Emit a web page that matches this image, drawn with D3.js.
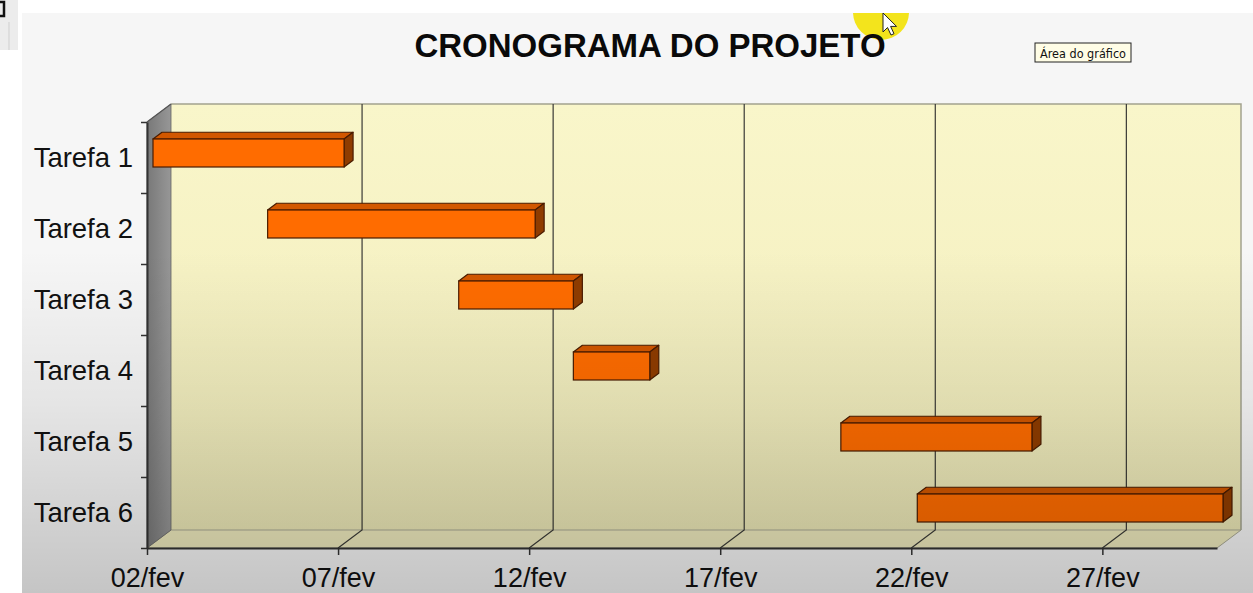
<!DOCTYPE html>
<html>
<head>
<meta charset="utf-8">
<script src="https://cdn.jsdelivr.net/npm/d3@7"></script>
<style>
  html, body { margin: 0; padding: 0; background: #ffffff; }
  svg { display: block; }
</style>
</head>
<body>
<svg id="chart" width="1253" height="593"></svg>
<script>
// ---- data ----
const title = "CRONOGRAMA DO PROJETO";
const tasks = ["Tarefa 1", "Tarefa 2", "Tarefa 3", "Tarefa 4", "Tarefa 5", "Tarefa 6"];
const startDates = ["2023-02-02", "2023-02-05", "2023-02-10", "2023-02-13", "2023-02-20", "2023-02-22"];
const durations = [5, 7, 3, 2, 5, 8];
const axisDomain = ["2023-02-02", "2023-03-02"];
const tickDates = ["2023-02-02", "2023-02-07", "2023-02-12", "2023-02-17", "2023-02-22", "2023-02-27"];
const tickLabels = ["02/fev", "07/fev", "12/fev", "17/fev", "22/fev", "27/fev"];
const tooltipText = "Área do gráfico";

// ---- layout ----
const W = 1253, H = 593;
const font = "'Liberation Sans', Arial, sans-serif";
const plot = { left: 147, right: 1217, top: 122, bottom: 548 };
const depth = { dx: 24, dy: -18 };
const barDepth = [0.25, 0.625];

const parse = d3.utcParse("%Y-%m-%d");
const x = d3.scaleUtc().domain(axisDomain.map(parse)).range([plot.left, plot.right]);
const y = d3.scaleBand().domain(tasks).range([plot.top, plot.bottom]).paddingInner(0).paddingOuter(0);
const yTicks = d3.scaleLinear().domain([0, tasks.length]).range([plot.top, plot.bottom]);
const P = (px, py, d) => [px + depth.dx * d, py + depth.dy * d];

const svg = d3.select("#chart");
const defs = svg.append("defs");

function vGrad(id, stops, x1 = 0, y1 = 0, x2 = 0, y2 = 1) {
  const g = defs.append("linearGradient").attr("id", id)
    .attr("x1", x1).attr("y1", y1).attr("x2", x2).attr("y2", y2);
  stops.forEach(s => g.append("stop").attr("offset", s[0]).attr("stop-color", s[1]).attr("stop-opacity", s[2] ?? 1));
  return `url(#${id})`;
}

const chartArea = { x: 22, y: 13, w: W - 22, h: H - 13 };
defs.append("clipPath").attr("id", "areaClip").append("rect")
  .attr("x", chartArea.x).attr("y", chartArea.y).attr("width", chartArea.w).attr("height", chartArea.h);

// top-left artifact
svg.append("rect").attr("x", 0).attr("y", 0).attr("width", 18).attr("height", 50).attr("fill", "#ececec");
svg.append("path").attr("d", "M0,2 L4,2 L4,16 L0,16").attr("fill", "none").attr("stroke", "#111").attr("stroke-width", 2.5);
svg.append("line").attr("x1", 9).attr("x2", 9).attr("y1", 22).attr("y2", 50).attr("stroke", "#cfcfcf");

// chart area background
svg.append("rect").attr("x", chartArea.x).attr("y", chartArea.y).attr("width", chartArea.w).attr("height", chartArea.h)
  .attr("fill", "#f6f6f6");

const g = svg.append("g").attr("clip-path", "url(#areaClip)");

// back wall
const bwTL = P(plot.left, plot.top, 1), bwBR = P(plot.right, plot.bottom, 1);
g.append("rect").attr("x", bwTL[0]).attr("y", bwTL[1]).attr("width", bwBR[0] - bwTL[0]).attr("height", bwBR[1] - bwTL[1])
  .attr("fill", vGrad("wallGrad", [[0, "#f9f6ca"], [0.4, "#f6f2c4"], [1, "#ebe7b6"]]));
g.append("path")
  .attr("d", `M${bwTL[0]},${bwTL[1]} L${bwBR[0]},${bwTL[1]} L${bwBR[0]},${bwBR[1]}`)
  .attr("fill", "none").attr("stroke", "#a3a28e").attr("stroke-width", 1.5);

// floor
const floorPts = [P(plot.left, plot.bottom, 0), P(plot.left, plot.bottom, 1), P(plot.right, plot.bottom, 1), P(plot.right, plot.bottom, 0)];
g.append("polygon").attr("points", floorPts.map(p => p.join(",")).join(" "))
  .attr("fill", "#eeeabd").attr("stroke", "#a9a894").attr("stroke-width", 1);

// left wall
const lwPts = [P(plot.left, plot.top, 0), P(plot.left, plot.top, 1), P(plot.left, plot.bottom, 1), P(plot.left, plot.bottom, 0)];
g.append("polygon").attr("points", lwPts.map(p => p.join(",")).join(" "))
  .attr("fill", vGrad("lwGrad", [[0, "#787878"], [1, "#979797"]], 0, 0, 1, 0))
  .attr("stroke", "#666").attr("stroke-width", 0.8);

// gridlines (floor diagonal + back wall vertical)
tickDates.slice(1).map(parse).forEach(d => {
  const fx = x(d);
  const b = P(fx, plot.bottom, 1), t = P(fx, plot.top, 1);
  g.append("path").attr("d", `M${fx},${plot.bottom} L${b[0]},${b[1]} L${t[0]},${t[1]}`)
    .attr("fill", "none").attr("stroke", "#3a3a36").attr("stroke-width", 1.2);
});

// bars
const bars = tasks.map((t, i) => {
  const s = parse(startDates[i]);
  return { task: t, start: s, end: d3.utcDay.offset(s, durations[i]) };
});
const barH = 28;
const bg = g.append("g");
bars.forEach(b => {
  const x0 = x(b.start), x1 = x(b.end);
  const yc = y(b.task) + y.bandwidth() / 2;
  const yt = yc - barH / 2, yb = yc + barH / 2;
  const f0 = P(x0, yt, barDepth[0]), f1 = P(x1, yb, barDepth[0]);
  const ftl = P(x0, yt, barDepth[0]), ftr = P(x1, yt, barDepth[0]);
  const btl = P(x0, yt, barDepth[1]), btr = P(x1, yt, barDepth[1]);
  const bbr = P(x1, yb, barDepth[1]), fbr = P(x1, yb, barDepth[0]);
  const stroke = "#4a1c00";
  bg.append("polygon").attr("points", [ftl, btl, btr, ftr].map(p => p.join(",")).join(" "))
    .attr("fill", "#d25700").attr("stroke", stroke).attr("stroke-width", 1.2).attr("stroke-linejoin", "round");
  bg.append("polygon").attr("points", [ftr, btr, bbr, fbr].map(p => p.join(",")).join(" "))
    .attr("fill", "#8f3c00").attr("stroke", stroke).attr("stroke-width", 1.2).attr("stroke-linejoin", "round");
  bg.append("rect").attr("x", f0[0]).attr("y", f0[1]).attr("width", f1[0] - f0[0]).attr("height", f1[1] - f0[1])
    .attr("fill", "#ff6c00").attr("stroke", stroke).attr("stroke-width", 1.2);
});

// x axis (front baseline)
const xAxis = d3.axisBottom(x).tickValues(tickDates.map(parse))
  .tickFormat((d, i) => tickLabels[i]).tickSize(7).tickSizeOuter(0);
const xg = g.append("g").attr("transform", `translate(0,${plot.bottom})`).call(xAxis);
xg.select(".domain").attr("stroke", "#333").attr("stroke-width", 2);
xg.selectAll(".tick line").attr("stroke", "#333").attr("stroke-width", 1.5);
xg.selectAll(".tick text").attr("y", 39).attr("dy", null)
  .attr("font-family", font).attr("font-size", 27).attr("fill", "#111");

// y axis (front left edge)
const yAxis = d3.axisLeft(yTicks).tickValues(d3.range(tasks.length + 1)).tickFormat("").tickSize(6).tickSizeOuter(0);
const yg = g.append("g").attr("transform", `translate(${plot.left},0)`).call(yAxis);
yg.select(".domain").attr("stroke", "#333").attr("stroke-width", 2);
yg.selectAll(".tick line").attr("stroke", "#333").attr("stroke-width", 1.5);

// y labels
g.append("g").selectAll("text").data(tasks).join("text")
  .attr("x", 133).attr("y", d => y(d) + y.bandwidth() / 2 + 9.5)
  .attr("text-anchor", "end").attr("font-family", font).attr("font-size", 27.5).attr("fill", "#111")
  .text(d => d);

// left wall top edge
const lt0 = P(plot.left, plot.top, 0), lt1 = P(plot.left, plot.top, 1);
g.append("line").attr("x1", lt0[0]).attr("y1", lt0[1]).attr("x2", lt1[0]).attr("y2", lt1[1])
  .attr("stroke", "#555").attr("stroke-width", 1.2);

// yellow cursor highlight
g.append("circle").attr("cx", 881).attr("cy", 12).attr("r", 28).attr("fill", "#f3e41c");

// title
g.append("text").attr("x", 650).attr("y", 57).attr("text-anchor", "middle")
  .attr("font-family", font).attr("font-weight", "bold").attr("font-size", 33).attr("fill", "#0a0a0a")
  .text(title);

// mouse pointer
g.append("path")
  .attr("d", "M0,0 L0,19 L4.5,14.5 L8,22 L11,20.7 L7.6,13.4 L13.5,13.4 Z")
  .attr("transform", "translate(883,13)")
  .attr("fill", "#fff").attr("stroke", "#222").attr("stroke-width", 1);

// tooltip
const tip = g.append("g").attr("transform", "translate(1035,43)");
tip.append("rect").attr("x", 0).attr("y", 0).attr("width", 96).attr("height", 19)
  .attr("fill", "#fffde6").attr("stroke", "#222").attr("stroke-width", 1);
tip.append("text").attr("x", 48).attr("y", 14.5).attr("text-anchor", "middle")
  .attr("font-family", "'DejaVu Sans', Tahoma, sans-serif").attr("font-size", 12.5)
  .attr("textLength", 86).attr("lengthAdjust", "spacingAndGlyphs").attr("fill", "#111")
  .text(tooltipText);

// bottom darkening (screen gradient)
g.append("rect").attr("x", chartArea.x).attr("y", 250).attr("width", chartArea.w).attr("height", H - 250)
  .attr("fill", vGrad("shade", [[0, "#000", 0], [0.45, "#000", 0.07], [1, "#000", 0.2]]))
  .attr("pointer-events", "none");
</script>
</body>
</html>
